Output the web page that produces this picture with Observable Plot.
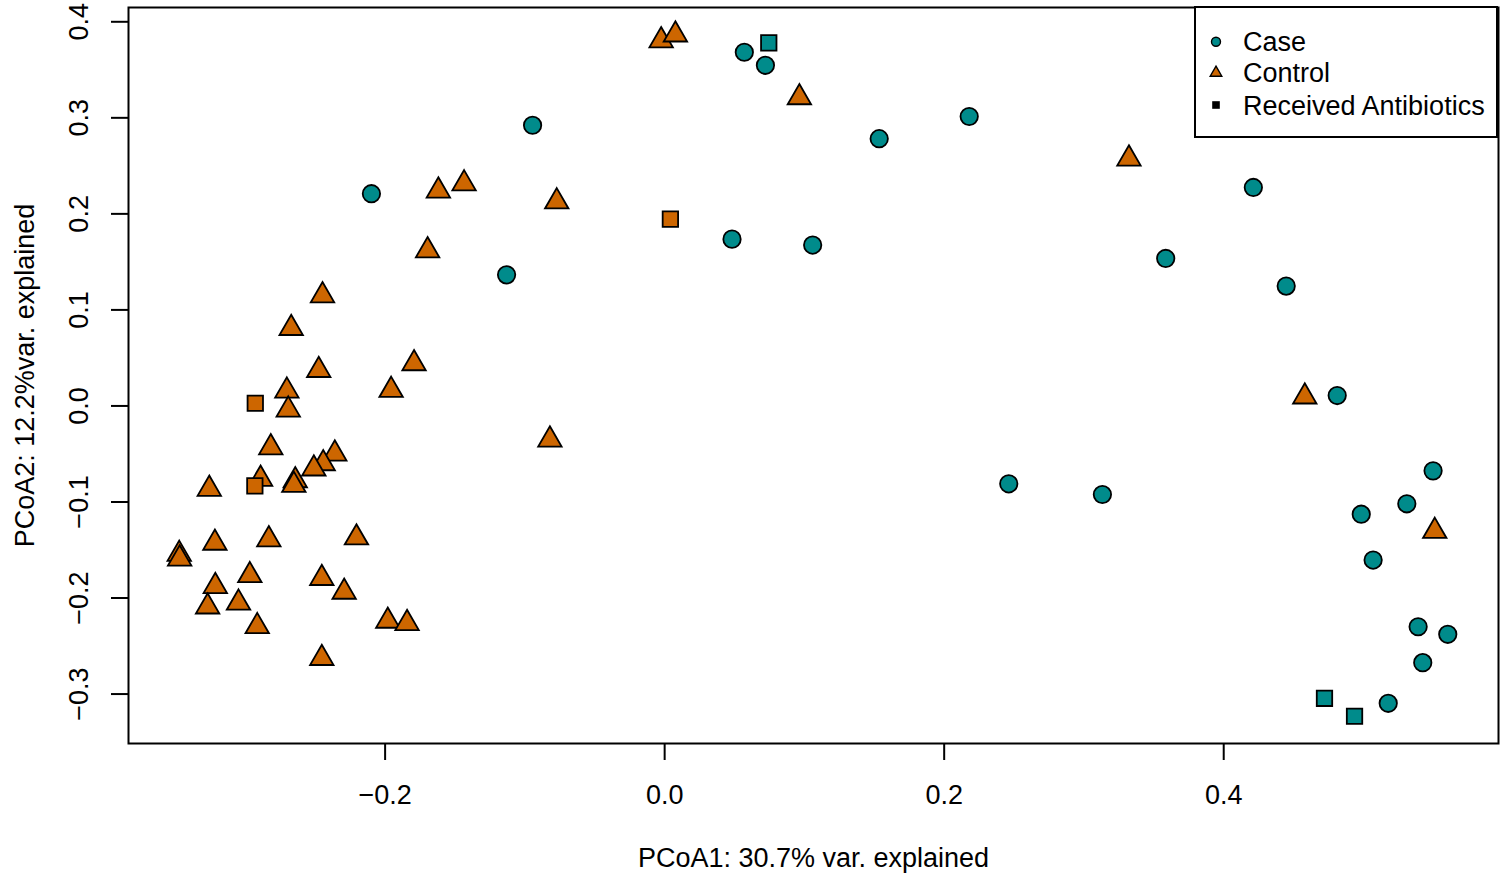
<!DOCTYPE html>
<html><head><meta charset="utf-8">
<script src="https://cdn.jsdelivr.net/npm/d3@7"></script>
<script src="https://cdn.jsdelivr.net/npm/@observablehq/plot@0.6"></script>
<style>
body{margin:0;background:#fff;}
#wrap{position:relative;width:1502px;height:874px;font-family:"Liberation Sans",Arial,Helvetica,sans-serif;}
#wrap svg{overflow:visible;}
#legend{position:absolute;left:1194px;top:6px;}
</style></head><body><div id="wrap"></div>
<script>
// Case (teal circles)
const casePts = [
  [-0.2098, 0.2210], [-0.1131, 0.1365], [-0.0945, 0.2923], [0.0570, 0.3683],
  [0.0721, 0.3547], [0.0482, 0.1737], [0.1059, 0.1675], [0.1535, 0.2783],
  [0.2179, 0.3014], [0.2462, -0.0811], [0.3132, -0.0922], [0.3585, 0.1536],
  [0.4212, 0.2275], [0.4447, 0.1248], [0.4812, 0.0108], [0.5498, -0.0676],
  [0.5310, -0.1019], [0.4984, -0.1127], [0.5069, -0.1605], [0.5391, -0.2299],
  [0.5603, -0.2378], [0.5424, -0.2673], [0.5177, -0.3096]
];
// Case, received antibiotics (teal squares)
const caseAbxPts = [[0.0745, 0.3780], [0.4721, -0.3044], [0.4936, -0.3231]];
// Control (orange triangles)
const controlPts = [
  [-0.1619, 0.2240], [-0.1435, 0.2315], [-0.0772, 0.2127], [-0.1696, 0.1618],
  [-0.2448, 0.1149], [-0.2672, 0.0809], [-0.2475, 0.0372], [-0.1793, 0.0442],
  [-0.2703, 0.0157], [-0.1957, 0.0164], [-0.2693, -0.0041], [-0.2818, -0.0433],
  [-0.0821, -0.0353], [-0.2360, -0.0498], [-0.2443, -0.0599], [-0.2510, -0.0654],
  [-0.2891, -0.0761], [-0.2643, -0.0776], [-0.2653, -0.0825], [-0.3258, -0.0865],
  [-0.2205, -0.1372], [-0.3218, -0.1427], [-0.2832, -0.1391], [-0.3473, -0.1543],
  [-0.3470, -0.1592], [-0.2968, -0.1765], [-0.3215, -0.1878], [-0.2453, -0.1794],
  [-0.2293, -0.1937], [-0.3270, -0.2091], [-0.3049, -0.2051], [-0.2915, -0.2296],
  [-0.1981, -0.2239], [-0.1843, -0.2263], [-0.2453, -0.2627], [-0.0025, 0.3805],
  [0.0077, 0.3865], [0.0964, 0.3212], [0.3322, 0.2573], [0.4580, 0.0096],
  [0.5510, -0.1304]
];
// Control, received antibiotics (orange squares)
const controlAbxPts = [[0.0041, 0.1945], [-0.2929, 0.0028], [-0.2932, -0.0832]];

const xTicks = [-0.2, 0.0, 0.2, 0.4];
const yTicks = [-0.3, -0.2, -0.1, 0.0, 0.1, 0.2, 0.3, 0.4];
const xLabel = "PCoA1: 30.7% var. explained";
const yLabel = "PCoA2: 12.2%var. explained";
const legendLabels = ["Case", "Control", "Received Antibiotics"];
const caseColor = "#008B8B";
const controlColor = "#CD6600";

const toRows = (pts, group, symbol) => pts.map(([x, y]) => ({x, y, group, symbol}));
const rows = [
  ...toRows(casePts, "Case", "circle"),
  ...toRows(controlPts, "Control", "triangle"),
  ...toRows(caseAbxPts, "Case", "square"),
  ...toRows(controlAbxPts, "Control", "square")
];
const ext = (a) => { const [lo, hi] = d3.extent(a); const p = (hi - lo) * 0.04; return [lo - p, hi + p]; };
const fmt = d3.format(".1f");
const FONT = '"Liberation Sans", Arial, Helvetica, sans-serif';

const plot = Plot.plot({
  width: 1502, height: 874,
  marginLeft: 128, marginRight: 4, marginTop: 7, marginBottom: 131,
  style: {fontFamily: FONT, fontSize: "27px", background: "white", color: "black", overflow: "visible"},
  x: {domain: ext(rows.map(d => d.x))},
  y: {domain: ext(rows.map(d => d.y))},
  color: {domain: ["Case", "Control"], range: [caseColor, controlColor]},
  symbol: {domain: ["circle", "triangle", "square"], range: ["circle", "triangle", "square"]},
  marks: [
    Plot.axisX(xTicks, {tickSize: 17, strokeWidth: 2, tickFormat: () => "", label: null}),
    Plot.axisY(yTicks, {tickSize: 17, strokeWidth: 2, tickFormat: () => "", label: null}),
    Plot.text(xTicks, {x: d => d, text: d => fmt(d), frameAnchor: "bottom", lineAnchor: "middle", textAnchor: "middle", dy: 52, fontSize: 27, fill: "black"}),
    Plot.text(yTicks, {y: d => d, text: d => fmt(d), frameAnchor: "left", lineAnchor: "middle", textAnchor: "middle", dx: -49, rotate: -90, fontSize: 27, fill: "black"}),
    Plot.text([xLabel], {text: d => d, frameAnchor: "bottom", lineAnchor: "middle", textAnchor: "middle", dy: 115, fontSize: 27, fill: "black"}),
    Plot.text([yLabel], {text: d => d, frameAnchor: "left", lineAnchor: "middle", textAnchor: "middle", dx: -103, rotate: -90, fontSize: 27, fill: "black"}),
    Plot.dot(rows, {x: "x", y: "y", fill: "group", symbol: "symbol", r: 8.7, stroke: "black", strokeWidth: 1.8}),
    Plot.frame({stroke: "black", strokeWidth: 2})
  ]
});
const wrap = document.getElementById("wrap");
wrap.appendChild(plot);

// legend inside the plot, top-right
const ns = "http://www.w3.org/2000/svg";
const lg = document.createElementNS(ns, "svg");
lg.setAttribute("id", "legend");
lg.setAttribute("width", 304);
lg.setAttribute("height", 132);
const rowY = [35.7, 66.7, 99];
let html = `<rect x="1" y="1" width="302" height="130" fill="white" stroke="black" stroke-width="2"/>`;
html += `<circle cx="22" cy="${rowY[0]}" r="4.5" fill="${caseColor}" stroke="black" stroke-width="1.4"/>`;
const ty = rowY[1];
html += `<path d="M22,${ty - 6.6} L27.8,${ty + 3.5} L16.2,${ty + 3.5} Z" fill="${controlColor}" stroke="black" stroke-width="1.4"/>`;
html += `<rect x="${22 - 3.8}" y="${rowY[2] - 3.8}" width="7.6" height="7.6" fill="black"/>`;
legendLabels.forEach((t, i) => {
  html += `<text x="49" y="${rowY[i] + 9.7}" font-family='${FONT}' font-size="27" fill="black">${t}</text>`;
});
lg.innerHTML = html;
wrap.appendChild(lg);
</script></body></html>
